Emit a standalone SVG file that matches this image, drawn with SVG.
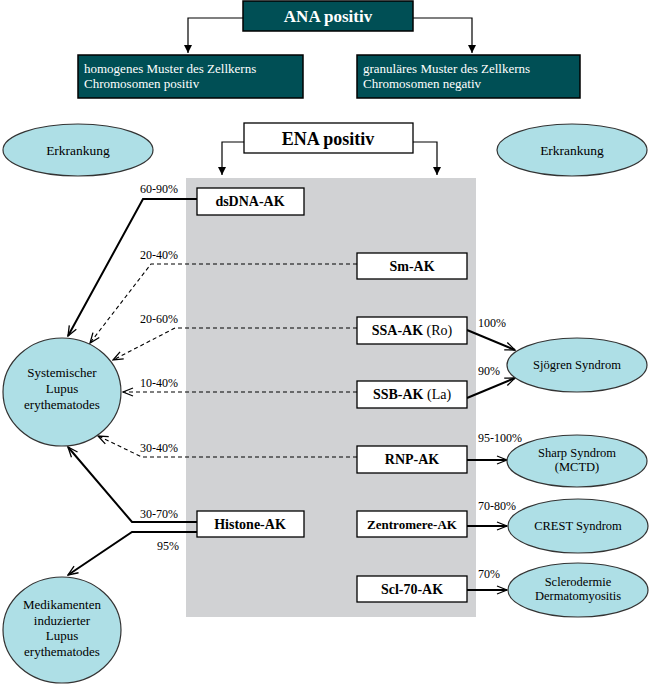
<svg xmlns="http://www.w3.org/2000/svg" width="651" height="685" viewBox="0 0 651 685" font-family="'Liberation Serif', 'DejaVu Serif', serif">
<style>
text{fill:#000}
.dark{fill:#004F55;stroke:#000;stroke-width:1.5}
.wbox{fill:#fff;stroke:#000;stroke-width:1.3}
.ell{fill:#AEDFE6;stroke:#333;stroke-width:1.2}
.wt{fill:#fff;font-size:13px}
.bt{font-weight:bold;font-size:14px;text-anchor:middle}
.et{font-size:13px;text-anchor:middle}
.pct{font-size:12px}
.c{fill:none;stroke:#000}
.thin{stroke-width:1.2}
.solid{stroke-width:2}
.dash{stroke-width:1.1;stroke-dasharray:4 3}
</style>
<defs>
<marker id="tri" viewBox="0 0 10 10" refX="10" refY="5" markerWidth="8" markerHeight="8" markerUnits="userSpaceOnUse" orient="auto">
<path d="M0,0 L10,5 L0,10 Z" fill="#000"/>
</marker>
<marker id="v" viewBox="0 0 12 10" refX="11" refY="5" markerWidth="12" markerHeight="10" markerUnits="userSpaceOnUse" orient="auto">
<path d="M1,1 L11,5 L1,9" fill="none" stroke="#000" stroke-width="1.3"/>
</marker>
</defs>

<rect id="ena-area" x="186" y="178" width="290" height="439" fill="#D1D2D4"/>

<g id="connectors">
<path class="c thin" d="M243,18 H188 V53" marker-end="url(#tri)"/>
<path class="c thin" d="M413,18 H472 V53" marker-end="url(#tri)"/>
<path class="c thin" d="M244,142 H222 V175" marker-end="url(#tri)"/>
<path class="c thin" d="M413,142 H437 V175" marker-end="url(#tri)"/>
<path class="c solid" d="M197,199 H143 L68,336" marker-end="url(#v)"/>
<path class="c dash" d="M357,264 H151 L90,343" marker-end="url(#v)"/>
<path class="c dash" d="M357,328 H175 L113,360" marker-end="url(#v)"/>
<path class="c dash" d="M357,392 H123" marker-end="url(#v)"/>
<path class="c dash" d="M357,457 H142 L98,436" marker-end="url(#v)"/>
<path class="c solid" d="M197,522 H132 L68,447" marker-end="url(#v)"/>
<path class="c solid" d="M197,532 H132 L68,575" marker-end="url(#v)"/>
<path class="c solid" d="M467,330 L515,350" marker-end="url(#v)"/>
<path class="c solid" d="M467,398 L515,378" marker-end="url(#v)"/>
<path class="c solid" d="M467,460 L507,460" marker-end="url(#v)"/>
<path class="c solid" d="M467,526 L507,526" marker-end="url(#v)"/>
<path class="c solid" d="M467,590 L507,590" marker-end="url(#v)"/>
<text class="pct" x="140" y="193">60-90%</text>
<text class="pct" x="140" y="259">20-40%</text>
<text class="pct" x="140" y="323">20-60%</text>
<text class="pct" x="140" y="387">10-40%</text>
<text class="pct" x="140" y="452">30-40%</text>
<text class="pct" x="140" y="518">30-70%</text>
<text class="pct" x="157" y="550">95%</text>
<text class="pct" x="478" y="327">100%</text>
<text class="pct" x="478" y="375">90%</text>
<text class="pct" x="478" y="442">95-100%</text>
<text class="pct" x="478" y="510">70-80%</text>
<text class="pct" x="478" y="578">70%</text>
</g>

<g id="ana">
<rect class="dark" x="243" y="1" width="170" height="30"/>
<text x="328" y="22" text-anchor="middle" style="fill:#fff;font-weight:bold;font-size:17px">ANA positiv</text>
</g>
<g id="homogen">
<rect class="dark" x="78" y="55" width="225" height="43"/>
<text class="wt" x="84" y="73">homogenes Muster des Zellkerns</text>
<text class="wt" x="84" y="88">Chromosomen positiv</text>
</g>
<g id="granular">
<rect class="dark" x="357" y="55" width="223" height="43"/>
<text class="wt" x="363" y="73">granuläres Muster des Zellkerns</text>
<text class="wt" x="363" y="88">Chromosomen negativ</text>
</g>
<g id="ena">
<rect class="wbox" x="244" y="123" width="169" height="30"/>
<text x="328" y="145" text-anchor="middle" style="font-weight:bold;font-size:18px">ENA positiv</text>
</g>
<g id="erk-left">
<ellipse class="ell" cx="78" cy="150" rx="75" ry="26"/>
<text x="78" y="155" text-anchor="middle" style="font-size:13.5px">Erkrankung</text>
</g>
<g id="erk-right">
<ellipse class="ell" cx="572" cy="150" rx="75" ry="26"/>
<text x="572" y="155" text-anchor="middle" style="font-size:13.5px">Erkrankung</text>
</g>

<g id="dsdna"><rect class="wbox" x="197" y="188" width="107" height="27"/><text class="bt" x="250" y="206">dsDNA-AK</text></g>
<g id="sm"><rect class="wbox" x="357" y="253" width="110" height="26"/><text class="bt" x="412" y="271">Sm-AK</text></g>
<g id="ssa"><rect class="wbox" x="357" y="317" width="110" height="27"/><text class="bt" x="412" y="335">SSA-AK <tspan style="font-weight:normal">(Ro)</tspan></text></g>
<g id="ssb"><rect class="wbox" x="357" y="381" width="110" height="27"/><text class="bt" x="412" y="399">SSB-AK <tspan style="font-weight:normal">(La)</tspan></text></g>
<g id="rnp"><rect class="wbox" x="357" y="446" width="110" height="27"/><text class="bt" x="412" y="464">RNP-AK</text></g>
<g id="histone"><rect class="wbox" x="197" y="511" width="107" height="26"/><text class="bt" x="250" y="529">Histone-AK</text></g>
<g id="zentromere"><rect class="wbox" x="357" y="511" width="110" height="26"/><text class="bt" x="412" y="529" style="font-size:13px">Zentromere-AK</text></g>
<g id="scl70"><rect class="wbox" x="357" y="576" width="110" height="26"/><text class="bt" x="412" y="594">Scl-70-AK</text></g>

<g id="sle">
<ellipse class="ell" cx="62" cy="392" rx="59" ry="54"/>
<text class="et" x="62" y="377">Systemischer</text>
<text class="et" x="62" y="393">Lupus</text>
<text class="et" x="62" y="409">erythematodes</text>
</g>
<g id="med">
<ellipse class="ell" cx="62" cy="630" rx="59" ry="53"/>
<text class="et" x="62" y="609">Medikamenten</text>
<text class="et" x="62" y="625">induzierter</text>
<text class="et" x="62" y="640">Lupus</text>
<text class="et" x="62" y="656">erythematodes</text>
</g>
<g id="sjogren">
<ellipse class="ell" cx="577" cy="365" rx="70" ry="27"/>
<text x="577" y="369" text-anchor="middle" style="font-size:12.5px">Sjögren Syndrom</text>
</g>
<g id="sharp">
<ellipse class="ell" cx="577" cy="461" rx="70" ry="26"/>
<text x="577" y="457" text-anchor="middle" style="font-size:12.5px">Sharp Syndrom</text>
<text x="577" y="471" text-anchor="middle" style="font-size:12.5px">(MCTD)</text>
</g>
<g id="crest">
<ellipse class="ell" cx="578" cy="526" rx="70" ry="27"/>
<text x="578" y="530" text-anchor="middle" style="font-size:12.5px">CREST Syndrom</text>
</g>
<g id="sclerodermie">
<ellipse class="ell" cx="578" cy="590" rx="70" ry="27"/>
<text x="578" y="586" text-anchor="middle" style="font-size:12.5px">Sclerodermie</text>
<text x="578" y="600" text-anchor="middle" style="font-size:12.5px">Dermatomyositis</text>
</g>
</svg>
